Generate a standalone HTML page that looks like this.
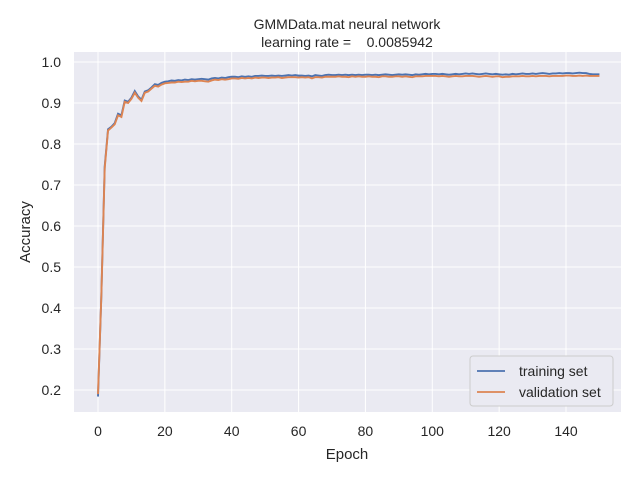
<!DOCTYPE html>
<html><head><meta charset="utf-8"><style>
body{margin:0;background:#fff;font-family:"Liberation Sans","DejaVu Sans",sans-serif;}
svg text{font-family:"Liberation Sans","DejaVu Sans",sans-serif;fill:#262626;white-space:pre;}
</style></head><body>
<svg id="chart" width="640" height="480" xmlns="http://www.w3.org/2000/svg">
<rect width="640" height="480" fill="#fff"/>
<rect x="74" y="52" width="547" height="360" fill="#eaeaf2"/>
<g id="grid"></g>
<g id="series"></g>
<g id="ticks"></g>
<text x="347" y="29" font-size="14" text-anchor="middle">GMMData.mat neural network</text>
<text x="347" y="47" font-size="14" text-anchor="middle" xml:space="preserve">learning rate =    0.0085942</text>
<text x="347" y="459" font-size="15" text-anchor="middle">Epoch</text>
<text x="30" y="232" font-size="15" text-anchor="middle" transform="rotate(-90 30 232)">Accuracy</text>
<g>
<rect x="470" y="356" width="143" height="50" rx="3" fill="#eaeaf2" stroke="#cccccc" stroke-width="1"/>
<line x1="477" y1="371" x2="505" y2="371" stroke="#4c72b0" stroke-width="1.8"/>
<text x="519" y="376" font-size="14">training set</text>
<line x1="477" y1="392" x2="505" y2="392" stroke="#dd8452" stroke-width="1.8"/>
<text x="519" y="397" font-size="14">validation set</text>
</g>
</svg>
<script>
const xTicks=[0,20,40,60,80,100,120,140];
const yTicks=[0.2,0.3,0.4,0.5,0.6,0.7,0.8,0.9,1.0];
const training=[0.184,0.43,0.745,0.836,0.842,0.851,0.874,0.870,0.906,0.903,0.913,0.929,0.916,0.908,0.928,0.931,0.938,0.946,0.944,0.949,0.952,
.953,.955,.954,.956,.955,.957,.956,.958,.957,.958,
.959,.958,.957,.960,.961,.960,.962,.961,.963,.964,
.964,.963,.965,.964,.965,.964,.966,.966,.967,.966,
.966,.967,.966,.967,.966,.967,.968,.967,.968,.967,
.967,.966,.967,.965,.968,.967,.966,.968,.969,.968,
.968,.969,.968,.969,.968,.969,.968,.969,.968,.969,
.969,.968,.969,.968,.969,.970,.969,.968,.969,.970,
.969,.970,.969,.968,.970,.969,.970,.971,.970,.971,
.971,.970,.971,.970,.969,.970,.971,.970,.971,.972,
.971,.972,.971,.970,.971,.972,.971,.970,.971,.970,
.969,.970,.969,.971,.970,.971,.972,.971,.971,.972,
.971,.972,.973,.972,.971,.972,.972,.973,.972,.973,
.973,.972,.973,.974,.973,.973,.971,.970,.970,.970];
const validation=[0.19,0.43,0.74,0.833,0.840,0.848,0.870,0.866,0.903,0.900,0.910,0.925,0.913,0.905,0.925,0.928,0.935,0.942,0.940,0.945,0.948,
.949,.950,.950,.952,.951,.952,.952,.954,.953,.954,
.954,.953,.952,.955,.957,.956,.958,.957,.958,.960,
.960,.959,.961,.960,.961,.960,.962,.961,.962,.962,
.961,.962,.962,.963,.961,.962,.963,.963,.963,.962,
.963,.962,.963,.960,.963,.963,.962,.964,.964,.964,
.964,.965,.964,.964,.963,.965,.964,.965,.964,.964,
.965,.964,.964,.963,.965,.965,.964,.964,.965,.965,
.964,.965,.964,.963,.965,.965,.965,.966,.966,.966,
.966,.965,.966,.965,.964,.965,.966,.965,.965,.966,
.966,.966,.965,.964,.965,.966,.965,.964,.965,.965,
.963,.964,.964,.965,.965,.965,.966,.965,.965,.966,
.965,.966,.966,.966,.965,.966,.966,.966,.966,.967,
.967,.966,.966,.967,.966,.967,.966,.966,.966,.966];
const NS="http://www.w3.org/2000/svg";
function xs(e){return 98+e*(566-98)/140;}
function ys(v){return 390-(v-0.2)*(390-62)/0.8;}
const grid=document.getElementById('grid'),ticks=document.getElementById('ticks'),ser=document.getElementById('series');
xTicks.forEach(t=>{
 const l=document.createElementNS(NS,'line');
 
 
 l.setAttribute('x1',xs(t));l.setAttribute('x2',xs(t));l.setAttribute('y1',52);l.setAttribute('y2',412);
 l.setAttribute('stroke','#fff');l.setAttribute('stroke-width','1');grid.appendChild(l);
 const tx=document.createElementNS(NS,'text');
 
 
 tx.setAttribute('x',xs(t));tx.setAttribute('y',436);tx.setAttribute('font-size','14');tx.setAttribute('text-anchor','middle');
 tx.textContent=t;ticks.appendChild(tx);
});
yTicks.forEach(t=>{
 const l=document.createElementNS(NS,'line');
 
 
 l.setAttribute('x1',74);l.setAttribute('x2',621);l.setAttribute('y1',ys(t));l.setAttribute('y2',ys(t));
 l.setAttribute('stroke','#fff');l.setAttribute('stroke-width','1');grid.appendChild(l);
 const tx=document.createElementNS(NS,'text');
 
 
 tx.setAttribute('x',61);tx.setAttribute('y',ys(t)+5);tx.setAttribute('font-size','14');tx.setAttribute('text-anchor','end');
 tx.textContent=t.toFixed(1);ticks.appendChild(tx);
});
function line(arr,color,name){
 const p=document.createElementNS(NS,'polyline');
 
 
 p.setAttribute('points',arr.map((v,i)=>xs(i).toFixed(2)+','+ys(v).toFixed(2)).join(' '));
 p.setAttribute('fill','none');p.setAttribute('stroke',color);p.setAttribute('stroke-width','1.9');
 ser.appendChild(p);
}
line(training,'#4c72b0','training-line');
line(validation,'#dd8452','validation-line');
</script>
</body></html>
